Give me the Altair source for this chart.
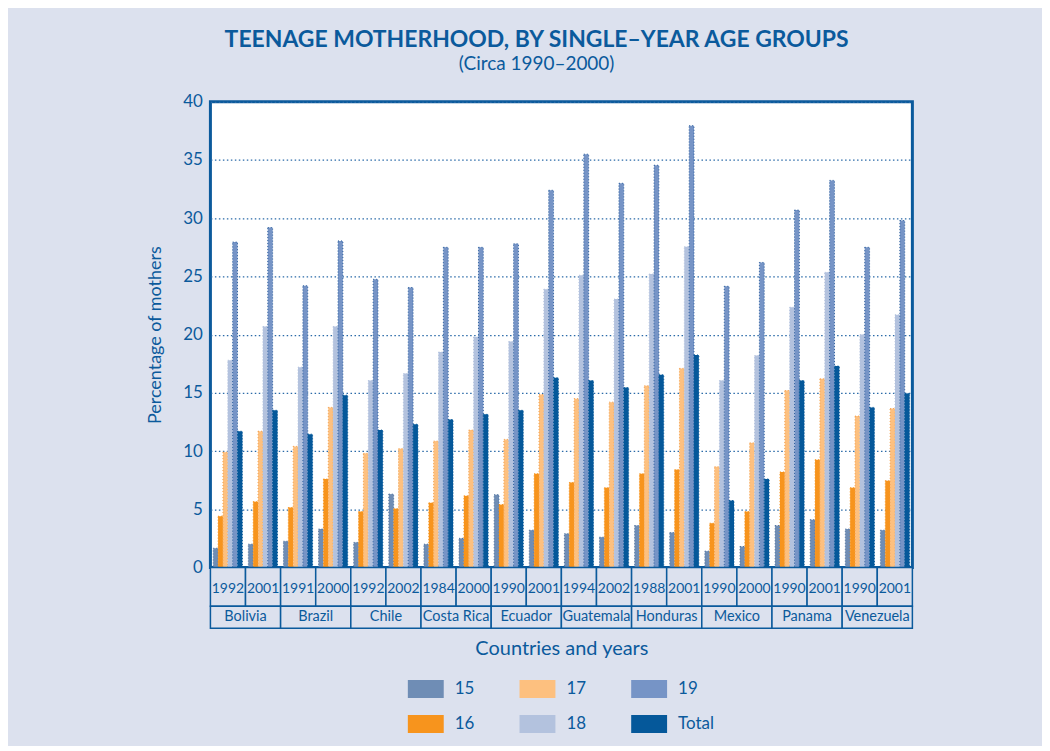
import altair as alt
import pandas as pd

# ---------------- data ----------------
countries = ["Bolivia", "Brazil", "Chile", "Costa Rica", "Ecuador",
             "Guatemala", "Honduras", "Mexico", "Panama", "Venezuela"]
years = ["1992", "2001", "1991", "2000", "1992", "2002", "1984", "2000", "1990", "2001",
         "1994", "2002", "1988", "2001", "1990", "2000", "1990", "2001", "1990", "2001"]
ages = ["15", "16", "17", "18", "19", "Total"]

age15 = [1.65, 2.0, 2.25, 3.3, 2.15, 6.3, 2.0, 2.5, 6.25, 3.2,
         2.9, 2.6, 3.6, 3.0, 1.4, 1.8, 3.6, 4.1, 3.3, 3.2]
age16 = [4.4, 5.65, 5.15, 7.6, 4.8, 5.05, 5.55, 6.15, 5.4, 8.05,
         7.3, 6.85, 8.05, 8.4, 3.8, 4.8, 8.2, 9.25, 6.85, 7.45]
age17 = [9.9, 11.7, 10.4, 13.75, 9.8, 10.2, 10.85, 11.8, 11.0, 14.85,
         14.5, 14.2, 15.6, 17.1, 8.65, 10.7, 15.2, 16.2, 13.0, 13.65]
age18 = [17.8, 20.7, 17.2, 20.7, 16.05, 16.65, 18.5, 19.8, 19.4, 23.9,
         25.1, 23.05, 25.2, 27.55, 16.05, 18.2, 22.35, 25.35, 20.0, 21.7]
age19 = [27.95, 29.2, 24.2, 28.05, 24.75, 24.05, 27.5, 27.5, 27.8, 32.4,
         35.5, 33.0, 34.55, 37.95, 24.15, 26.2, 30.7, 33.25, 27.5, 29.8]
total = [11.7, 13.5, 11.45, 14.8, 11.8, 12.3, 12.7, 13.15, 13.5, 16.3,
         16.05, 15.45, 16.55, 18.25, 5.75, 7.6, 16.05, 17.3, 13.75, 14.95]

series = {"15": age15, "16": age16, "17": age17, "18": age18, "19": age19, "Total": total}

# ---------------- styles ----------------
BG = "#dce1ee"
BLUE = "#0b5a9c"
FONT = "Lato"
colors = ["#6f8db5", "#f7941d", "#fdc07f", "#b3c2de", "#7694c6", "#05589a"]
edge_colors = ["#4d6f9c", "#f7941d", "#f3a04c", "#b3c2de", "#2d5f9f", "#05589a"]

keys = [f"{i:02d}" for i in range(len(years))]
rows = []
for a in ages:
    for i, k in enumerate(keys):
        rows.append({"key": k, "age": a, "value": series[a][i]})
df = pd.DataFrame(rows)

bars = alt.Chart(df).mark_bar(strokeWidth=1, strokeDash=[1, 2]).encode(
    x=alt.X("key:N", sort=keys, axis=None,
            scale=alt.Scale(paddingInner=0.17, paddingOuter=0.08)),
    xOffset=alt.XOffset("age:N", sort=ages,
                        scale=alt.Scale(paddingInner=0, paddingOuter=0)),
    y=alt.Y("value:Q", scale=alt.Scale(domain=[0, 40], nice=False),
            axis=alt.Axis(values=list(range(0, 41, 5)), title="Percentage of mothers",
                          grid=True, gridDash=[1.5, 2.5], gridColor="#2a6aa8", gridWidth=1.3,
                          ticks=False, domain=False, labelFontSize=17, labelColor=BLUE,
                          labelFont=FONT, labelPadding=8, titleFont=FONT, titleFontSize=18,
                          titleFontWeight="normal", titleColor=BLUE, titlePadding=18)),
    color=alt.Color("age:N", scale=alt.Scale(domain=ages, range=colors),
                    legend=alt.Legend(title=None, orient="none", legendX=198, legendY=571,
                                      columns=3, columnPadding=45, rowPadding=8,
                                      symbolType="M-1,-0.5H1V0.5H-1Z", symbolSize=1296,
                                      symbolStrokeWidth=0, labelOffset=11,
                                      labelFontSize=17, labelColor=BLUE, labelFont=FONT)),
    stroke=alt.Stroke("age:N", scale=alt.Scale(domain=ages, range=edge_colors), legend=None),
).properties(width=704, height=467,
             view=alt.ViewBackground(fill="white", stroke=BLUE, strokeWidth=3))

# ---------------- bottom label boxes ----------------
year_df = pd.DataFrame({"x0": list(range(20)), "x1": list(range(1, 21)),
                        "xm": [i + 0.5 for i in range(20)], "year": years})
country_df = pd.DataFrame({"x0": [2 * j for j in range(10)], "x1": [2 * j + 2 for j in range(10)],
                           "xm": [2 * j + 1 for j in range(10)], "country": countries})

xs = alt.Scale(domain=[0, 20], nice=False, zero=False)
ys = alt.Scale(domain=[0, 61], nice=False)

year_rect = alt.Chart(year_df).mark_rect(fill=BG, stroke=BLUE, strokeWidth=1.5).encode(
    x=alt.X("x0:Q", scale=xs,
            axis=alt.Axis(title="Countries and years", labels=False, ticks=False, domain=False,
                          grid=False, titleFont=FONT, titleFontSize=20, titleFontWeight="normal",
                          titleColor=BLUE, titlePadding=10)),
    x2="x1:Q",
    y=alt.Y(datum=22, type="quantitative", scale=ys, axis=None),
    y2=alt.Y2(datum=61),
)
country_rect = alt.Chart(country_df).mark_rect(fill=BG, stroke=BLUE, strokeWidth=1.5).encode(
    x=alt.X("x0:Q", scale=xs), x2="x1:Q",
    y=alt.Y(datum=0, type="quantitative", scale=ys), y2=alt.Y2(datum=22),
)
year_text = alt.Chart(year_df).mark_text(font=FONT, fontSize=14, color=BLUE, baseline="middle").encode(
    x=alt.X("xm:Q", scale=xs), y=alt.Y(datum=39, type="quantitative", scale=ys), text="year:N")
country_text = alt.Chart(country_df).mark_text(font=FONT, fontSize=14.5, color=BLUE, baseline="middle").encode(
    x=alt.X("xm:Q", scale=xs), y=alt.Y(datum=11, type="quantitative", scale=ys), text="country:N")

labels = alt.layer(year_rect, country_rect, year_text, country_text).properties(
    width=704, height=61, view=alt.ViewBackground(stroke=None, fill=None))

chart = alt.vconcat(bars, labels, spacing=0, bounds="flush").resolve_scale(
    x="independent", y="independent"
).properties(
    title=alt.TitleParams(text="TEENAGE MOTHERHOOD, BY SINGLE–YEAR AGE GROUPS",
                          subtitle="(Circa 1990–2000)", anchor="middle", dx=7, offset=17,
                          font=FONT, fontSize=23, fontWeight="bold", color=BLUE,
                          subtitleFont=FONT, subtitleFontSize=19, subtitleColor=BLUE,
                          subtitlePadding=3),
    background=BG,
    padding={"left": 137, "top": 20, "right": 128, "bottom": 12},
).configure_view(strokeWidth=0)

chart.save("out.html", embed_options={"renderer": "svg", "actions": False})
